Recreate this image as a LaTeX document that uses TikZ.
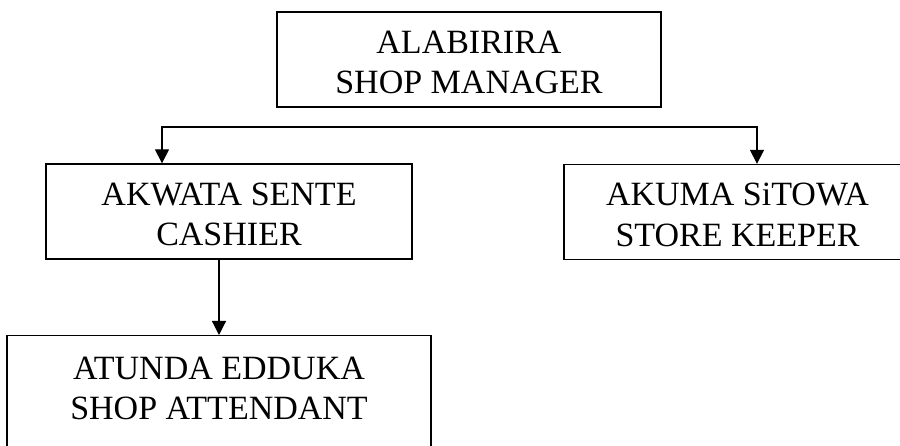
\documentclass[tikz,border=0pt]{standalone}
\usepackage{fontspec}
\setmainfont{Liberation Serif}
\usetikzlibrary{arrows.meta}

\begin{document}
\begin{tikzpicture}[x=1pt,y=-1pt,
    post/.style={draw,line width=1.3pt,align=center,inner sep=0pt,
      font=\fontsize{34}{40.5}\selectfont,
      text height=69pt,text depth=0pt,minimum height=95pt},
    tip/.style={line width=1.2pt,-{Triangle[length=14pt,width=14pt]}}]

  \fill[white] (0,0) rectangle (900,446);
  \useasboundingbox (0,0) rectangle (900,446);
  \clip (0,0) rectangle (900,446);

  \node[post,minimum width=384pt] (mgr) at (469,59.5) {ALABIRIRA\\SHOP MANAGER};
  \node[post,minimum width=366pt] (csh) at (229,211.5) {AKWATA SENTE\\CASHIER};
  \node[post,minimum width=347pt] (kpr) at (737.5,212) {AKUMA SiTOWA\\STORE KEEPER};
  \node[post,minimum width=424pt,minimum height=130pt,text depth=31pt,
    anchor=north] (att) at (219,335) {ATUNDA EDDUKA\\SHOP ATTENDANT};

  % fork under the manager
  \coordinate (fork w) at (162,127);
  \coordinate (fork e) at (757,127);
  \draw[tip] (fork e) -- (fork w) -- (fork w |- csh.north);
  \draw[tip] (fork w) -- (fork e) -- (fork e |- kpr.north);

  \draw[tip] (att.north |- csh.south) -- (att.north);

\end{tikzpicture}
\end{document}
